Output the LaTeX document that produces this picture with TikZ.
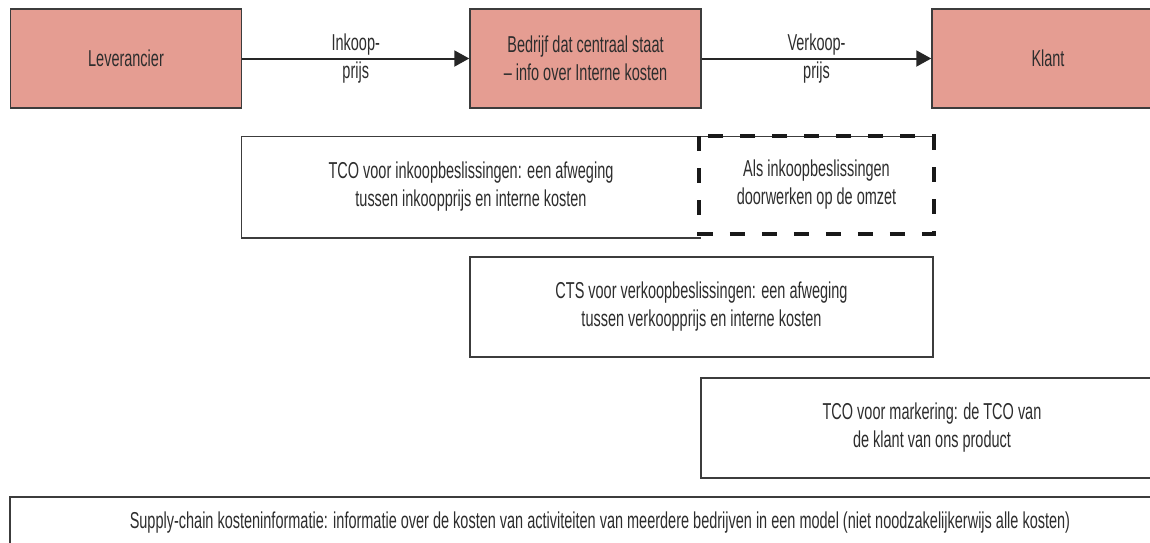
\documentclass[tikz,border=0pt]{standalone}
\usepackage{fontspec}
\setmainfont[FakeStretch=0.63]{Liberation Sans}
\usetikzlibrary{arrows.meta,positioning}
\definecolor{zalm}{RGB}{229,157,146}
\definecolor{rand}{RGB}{60,60,60}
\definecolor{tekst}{RGB}{45,45,45}
\tikzset{
  kader/.style={draw=rand,line width=1.5pt,minimum height=100pt,align=center,inner sep=0pt,text=tekst},
  partij/.style={kader,fill=zalm,minimum width=231pt,minimum height=99pt},
  stroom/.style={line width=2pt,draw=black!85,-{Triangle[length=15pt,width=16pt]}},
  prijslabel/.style={align=center,text=tekst},
  stippel/.style={draw=black!90,line width=4pt,dash pattern=on 15pt off 17pt},
}

\begin{document}
\begin{tikzpicture}[x=1pt,y=-1pt,font=\fontsize{23}{28}\selectfont]
  \clip (0,0) rectangle (1150,542);
  \fill[white] (0,0) rectangle (1150,542);

  % bovenste rij
  \node[partij] (lev) at (126,58.5) {Leverancier};
  \node[partij] (bedrijf) at (585.5,58.5) {Bedrijf dat centraal staat\\– info over Interne kosten};
  \node[partij,minimum width=232pt] (klant) at (1048,58.5) {Klant};
  \draw[stroom] (lev) -- node[prijslabel] {Inkoop-\\prijs} (bedrijf);
  \draw[stroom] (bedrijf) -- node[prijslabel] {Verkoop-\\prijs} (klant);

  % beslissingen
  \node[kader,draw=none,minimum width=458pt] (tco) at (471,187) {TCO voor inkoopbeslissingen: een afweging\\tussen inkoopprijs en interne kosten};
  \node[kader,draw=none,minimum width=233pt,minimum height=96pt] (als) at (816.5,185) {Als inkoopbeslissingen\\doorwerken op de omzet};
  \draw[rand,line width=1.5pt] (als.north east) -- (tco.north west) -- (tco.south west) -- (tco.south east);
  \draw[stippel] (als.north west) rectangle (als.south east);

  \node[kader,minimum width=463pt] (cts) at (701.5,307) {CTS voor verkoopbeslissingen: een afweging\\tussen verkoopprijs en interne kosten};
  \node[kader,minimum width=462pt] (markering) at (932,428) {TCO voor markering: de TCO van\\de klant van ons product};

  % onderste balk
  \node[kader,minimum width=1180pt,minimum height=52pt] (keten) at (600,523) {Supply-chain kosteninformatie: informatie over de kosten van activiteiten van meerdere bedrijven in een model (niet noodzakelijkerwijs alle kosten)};
\end{tikzpicture}
\end{document}
